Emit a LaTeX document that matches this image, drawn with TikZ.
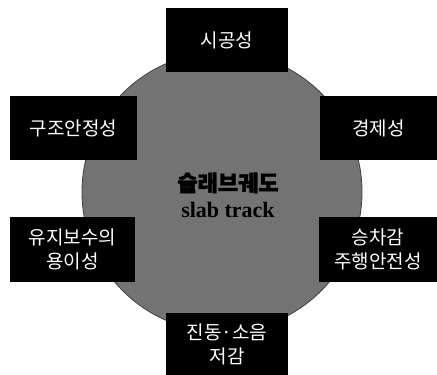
\documentclass[tikz,border=0pt]{standalone}
\usepackage{fontspec}
\newfontfamily\kr{Noto Sans CJK KR}
\newfontfamily\krb{Noto Sans CJK KR}[FakeBold=2]
\setmainfont{Liberation Serif}
\begin{document}
\begin{tikzpicture}[x=1pt,y=-1pt,
  item/.style={fill=black,text=white,inner sep=0pt,align=center,
    font=\kr\fontsize{19}{24}\selectfont},
  hub/.style={circle,fill=black!55,draw=black!75,line width=0.8pt,minimum size=280pt,inner sep=0pt}]
\useasboundingbox[fill=white] (0,0) rectangle (437,375);
\node[hub] (c) at (222,192) {};
\node[align=center,font=\bfseries\fontsize{22}{26}\selectfont] (t) at (228,195)
  {{\krb 슬래브궤도}\\slab track};
\node[item,minimum width=122pt,minimum height=64pt] (a) at (227,40) {시공성};
\node[item,minimum width=127pt,minimum height=64pt] (b) at (73.5,128) {구조안정성};
\node[item,minimum width=117pt,minimum height=64pt] (d) at (378.5,128) {경제성};
\node[item,minimum width=125pt,minimum height=65pt] (e) at (72.5,249.5) {유지보수의\\용이성};
\node[item,minimum width=118pt,minimum height=65pt] (f) at (378,249.5) {승차감\\주행안전성};
\node[item,minimum width=122pt,minimum height=62pt] (g) at (227,344) {진동·소음\\저감};
\end{tikzpicture}
\end{document}
